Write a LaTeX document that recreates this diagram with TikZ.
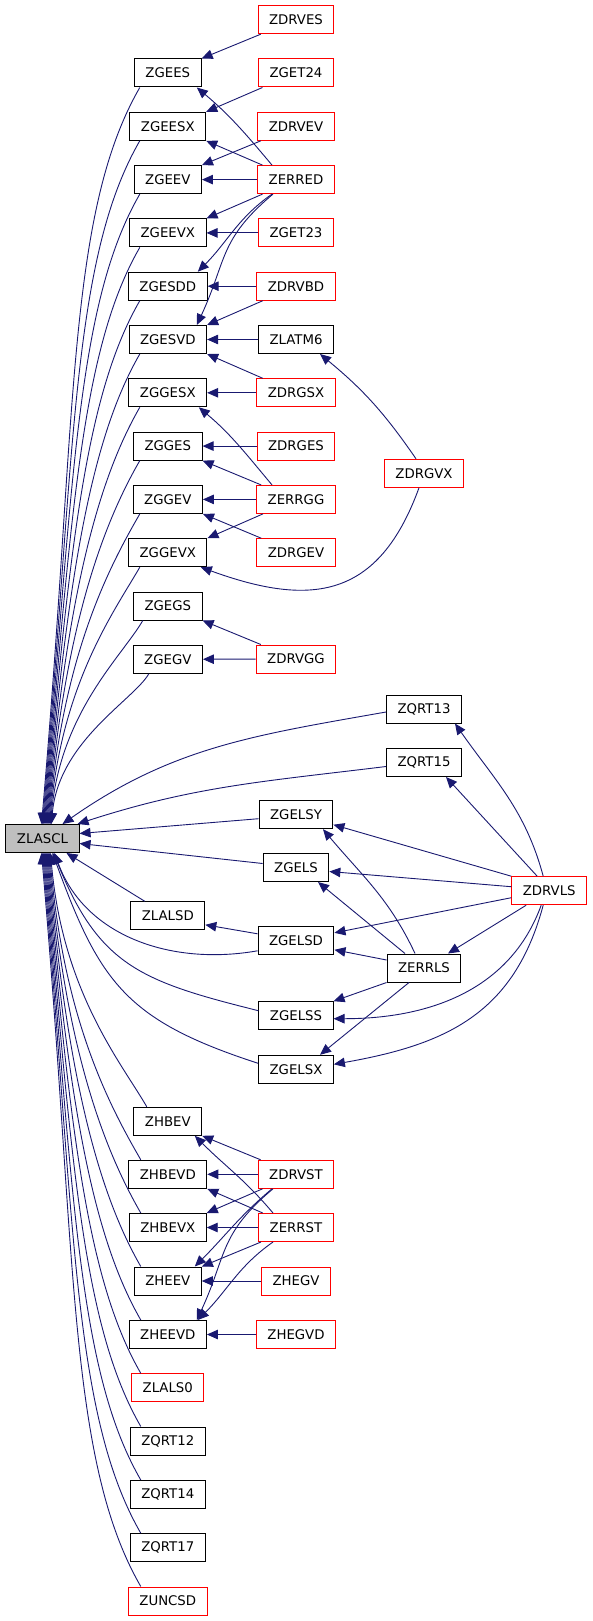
\documentclass[tikz,border=0pt]{standalone}
\usepackage{fontspec}
\newfontfamily\graphfont{DejaVu Sans}
\usetikzlibrary{arrows.meta}
\definecolor{edgeblue}{HTML}{191970}
\definecolor{callergray}{HTML}{BFBFBF}
\tikzset{
  fnbox/.style={draw=black, fill=white, line width=1pt, inner xsep=11pt, inner ysep=0pt,
    minimum height=28pt, font={\graphfont\fontsize{13.3}{16}\selectfont}},
  fnred/.style={fnbox, draw=red},
  fncur/.style={fnbox, fill=callergray},
  callarrow/.style={draw=edgeblue, line width=0.9pt, -{Triangle[length=11pt,width=9.5pt]}},
}
\begin{document}
\begin{tikzpicture}[x=1pt,y=1pt]
  \useasboundingbox (0,0) rectangle (592,-1621);
  % the routine itself
  \node[fncur] (zlascl) at (42.5,-838.5) {ZLASCL};
  % second column
  \node[fnbox] (zgees)  at (167.8,-73.0)  {ZGEES};
  \node[fnbox] (zgeesx) at (167.8,-126.3) {ZGEESX};
  \node[fnbox] (zgeev)  at (167.8,-179.6) {ZGEEV};
  \node[fnbox] (zgeevx) at (167.8,-232.9) {ZGEEVX};
  \node[fnbox] (zgesdd) at (167.8,-286.2) {ZGESDD};
  \node[fnbox] (zgesvd) at (167.8,-339.5) {ZGESVD};
  \node[fnbox] (zggesx) at (167.8,-392.8) {ZGGESX};
  \node[fnbox] (zgges)  at (167.8,-446.1) {ZGGES};
  \node[fnbox] (zggev)  at (167.8,-499.4) {ZGGEV};
  \node[fnbox] (zggevx) at (167.8,-552.7) {ZGGEVX};
  \node[fnbox] (zgegs)  at (167.8,-606.0) {ZGEGS};
  \node[fnbox] (zgegv)  at (167.8,-659.3) {ZGEGV};
  \node[fnbox] (zlalsd) at (167.8,-915.8) {ZLALSD};
  \node[fnbox] (zhbev)  at (167.8,-1121.3) {ZHBEV};
  \node[fnbox] (zhbevd) at (167.8,-1174.3) {ZHBEVD};
  \node[fnbox] (zhbevx) at (167.8,-1227.5) {ZHBEVX};
  \node[fnbox] (zheev)  at (167.8,-1281.0) {ZHEEV};
  \node[fnbox] (zheevd) at (167.8,-1334.5) {ZHEEVD};
  \node[fnred] (zlals0) at (167.8,-1387.8) {ZLALS0};
  \node[fnbox] (zqrt12) at (167.8,-1441.0) {ZQRT12};
  \node[fnbox] (zqrt14) at (167.8,-1494.5) {ZQRT14};
  \node[fnbox] (zqrt17) at (167.8,-1547.7) {ZQRT17};
  \node[fnred] (zuncsd) at (167.8,-1601.0) {ZUNCSD};
  % third column
  \node[fnred] (zdrves) at (296,-19.7)  {ZDRVES};
  \node[fnred] (zget24) at (296,-73.0)  {ZGET24};
  \node[fnred] (zdrvev) at (296,-126.3) {ZDRVEV};
  \node[fnred] (zerred) at (296,-179.6) {ZERRED};
  \node[fnred] (zget23) at (296,-232.9) {ZGET23};
  \node[fnred] (zdrvbd) at (296,-286.2) {ZDRVBD};
  \node[fnbox] (zlatm6) at (296,-339.5) {ZLATM6};
  \node[fnred] (zdrgsx) at (296,-392.8) {ZDRGSX};
  \node[fnred] (zdrges) at (296,-446.1) {ZDRGES};
  \node[fnred] (zerrgg) at (296,-499.4) {ZERRGG};
  \node[fnred] (zdrgev) at (296,-552.7) {ZDRGEV};
  \node[fnred] (zdrvgg) at (296,-659.0) {ZDRVGG};
  \node[fnbox] (zgelsy) at (296,-814.7) {ZGELSY};
  \node[fnbox] (zgels)  at (296,-867.5) {ZGELS};
  \node[fnbox] (zgelsd) at (296,-940.8) {ZGELSD};
  \node[fnbox] (zgelss) at (296,-1015.7) {ZGELSS};
  \node[fnbox] (zgelsx) at (296,-1069.3) {ZGELSX};
  \node[fnred] (zdrvst) at (296,-1174.3) {ZDRVST};
  \node[fnred] (zerrst) at (296,-1227.5) {ZERRST};
  \node[fnred] (zhegv)  at (296,-1281.0) {ZHEGV};
  \node[fnred] (zhegvd) at (296,-1334.5) {ZHEGVD};
  % fourth and fifth column
  \node[fnred] (zdrgvx) at (424,-473.3) {ZDRGVX};
  \node[fnbox] (zqrt13) at (424,-709.0) {ZQRT13};
  \node[fnbox] (zqrt15) at (424,-762.5) {ZQRT15};
  \node[fnbox] (zerrls) at (424,-968.0) {ZERRLS};
  \node[fnred] (zdrvls) at (549.2,-890.7) {ZDRVLS};

  % callers above ZLASCL: node / shift at ZLASCL / shift at caller / height
  \foreach \n/\s/\e/\d in {zgees/-1/-28/737.5, zgeesx/-0.1/-28/684, zgeev/0.8/-28/631,
      zgeevx/1.7/-28/577.6, zgesdd/2.6/-28/524, zgesvd/3.5/-28/471, zggesx/4.4/-28/417.7,
      zgges/5.3/-28/364.4, zggev/6.2/-28/311, zggevx/7.1/-28/257.8, zgegs/8/-25/204.5,
      zgegv/8.9/-19/151}{
    \draw[callarrow] ([xshift=\e]\n.south) to[out=240, in=85, out distance=0.2*\d,
      in distance=0.55*\d] ([xshift=\s]zlascl.north);
  }
  % callers below ZLASCL
  \foreach \n/\s/\e/\d in {zhbev/8/-21/254.8, zhbevd/7/-27/307.8, zhbevx/6/-27/361,
      zheev/5/-27/414.5, zheevd/4/-27/468, zlals0/3/-27/521.3, zqrt12/2/-27/574.5,
      zqrt14/1/-27/628, zqrt17/0/-27/681.2, zuncsd/-1/-27/734.5}{
    \draw[callarrow] ([xshift=\e]\n.north) to[out=120, in=-85, out distance=0.2*\d,
      in distance=0.55*\d] ([xshift=\s]zlascl.south);
  }
  \draw[callarrow] ([yshift=-3]zqrt13.west) to[out=190,in=35] ([xshift=20]zlascl.north);
  \draw[callarrow] ([yshift=-4]zqrt15.west) to[out=187,in=18] ([xshift=-2]zlascl.north east);
  \draw[callarrow] ([yshift=-4]zgelsy.west) -- ([yshift=5]zlascl.east);
  \draw[callarrow] ([yshift=4]zgels.west) -- ([yshift=-5]zlascl.east);
  \draw[callarrow] ([xshift=-23]zlalsd.north) -- ([xshift=24]zlascl.south);
  \draw[callarrow] ([yshift=-10]zgelsd.west) to[out=190,in=-70] ([xshift=12]zlascl.south);
  \draw[callarrow] ([yshift=5]zgelss.west) to[out=166,in=-68,looseness=1.2] ([xshift=11]zlascl.south);
  \draw[callarrow] ([yshift=6]zgelsx.west) to[out=162,in=-70,looseness=1.2] ([xshift=10]zlascl.south);
  \draw[callarrow] ([yshift=7]zgelsd.west) -- ([yshift=-9]zlalsd.east);

  % eigenvalue and svd drivers
  \draw[callarrow] (zdrves) -- (zgees.north east);
  \draw[callarrow] ([xshift=-24]zerred.north) to[out=130,in=-40] ([xshift=29]zgees.south);
  \draw[callarrow] (zget24) -- (zgeesx.north east);
  \draw[callarrow] (zerred) -- (zgeesx.south east);
  \draw[callarrow] (zdrvev) -- (zgeev.north east);
  \draw[callarrow] (zerred) -- (zgeev);
  \draw[callarrow] (zerred) -- (zgeevx.north east);
  \draw[callarrow] (zget23) -- (zgeevx);
  \draw[callarrow] ([xshift=-24]zerred.south) to[out=215,in=45] ([xshift=30]zgesdd.north);
  \draw[callarrow] (zdrvbd) -- (zgesdd);
  \draw[callarrow] ([xshift=-23]zerred.south) to[out=220,in=65,looseness=1.2] ([xshift=29]zgesvd.north);
  \draw[callarrow] (zdrvbd) -- (zgesvd.north east);
  \draw[callarrow] (zlatm6) -- (zgesvd);
  \draw[callarrow] (zdrgsx) -- (zgesvd.south east);
  \draw[callarrow] (zdrgsx) -- (zggesx);
  \draw[callarrow] ([xshift=-24]zerrgg.north) to[out=130,in=-40] ([xshift=31]zggesx.south);
  \draw[callarrow] (zdrges) -- (zgges);
  \draw[callarrow] (zerrgg) -- (zgges.south east);
  \draw[callarrow] (zerrgg) -- (zggev);
  \draw[callarrow] (zdrgev) -- (zggev.south east);
  \draw[callarrow] (zerrgg) -- (zggevx.north east);
  \draw[callarrow] ([xshift=-5]zdrgvx.south) to[out=250,in=-20,looseness=1.3] ([xshift=33]zggevx.south);
  \draw[callarrow] ([xshift=-8]zdrgvx.north) to[bend right=8] ([xshift=24]zlatm6.south);
  \draw[callarrow] (zdrvgg) -- (zgegs.south east);
  \draw[callarrow] (zdrvgg) -- (zgegv);

  % least squares drivers
  \draw[callarrow] ([xshift=-6]zdrvls.north) to[out=105,in=-55] ([xshift=31]zqrt13.south);
  \draw[callarrow] ([xshift=-12]zdrvls.north) -- ([xshift=22]zqrt15.south);
  \draw[callarrow] (zdrvls.north west) -- ([yshift=-10]zgelsy.east);
  \draw[callarrow] ([xshift=-9]zerrls.north) to[out=115,in=-50] ([xshift=27]zgelsy.south);
  \draw[callarrow] ([yshift=4]zdrvls.west) -- ([yshift=-4]zgels.east);
  \draw[callarrow] ([xshift=-19]zerrls.north) -- ([xshift=22]zgels.south);
  \draw[callarrow] ([yshift=-7]zdrvls.west) -- ([yshift=8]zgelsd.east);
  \draw[callarrow] ([yshift=8]zerrls.west) -- ([yshift=-9]zgelsd.east);
  \draw[callarrow] ([xshift=-23]zdrvls.south) -- ([xshift=24]zerrls.north);
  \draw[callarrow] (zerrls.south west) -- (zgelss.north east);
  \draw[callarrow] ([xshift=-8]zdrvls.south) to[out=250,in=0] ([yshift=-3]zgelss.east);
  \draw[callarrow] ([xshift=-15]zerrls.south) -- ([xshift=24]zgelsx.north);
  \draw[callarrow] ([xshift=-6]zdrvls.south) to[out=255,in=10,looseness=1.1] ([yshift=5]zgelsx.east);

  % hermitian drivers
  \draw[callarrow] (zdrvst) -- (zhbev.south east);
  \draw[callarrow] ([xshift=-23]zerrst.north) to[out=130,in=-45] ([xshift=27]zhbev.south);
  \draw[callarrow] (zdrvst) -- (zhbevd);
  \draw[callarrow] (zerrst) -- (zhbevd.south east);
  \draw[callarrow] (zdrvst) -- (zhbevx.north east);
  \draw[callarrow] (zerrst) -- (zhbevx);
  \draw[callarrow] ([xshift=-24]zdrvst.south) to[out=220,in=45] ([xshift=27]zheev.north);
  \draw[callarrow] (zerrst) -- (zheev.north east);
  \draw[callarrow] (zhegv) -- (zheev);
  \draw[callarrow] ([xshift=-23]zdrvst.south) to[out=220,in=65,looseness=1.2] ([xshift=29]zheevd.north);
  \draw[callarrow] ([xshift=-23]zerrst.south) to[out=215,in=45] ([xshift=30]zheevd.north);
  \draw[callarrow] (zhegvd) -- (zheevd);
\end{tikzpicture}
\end{document}
